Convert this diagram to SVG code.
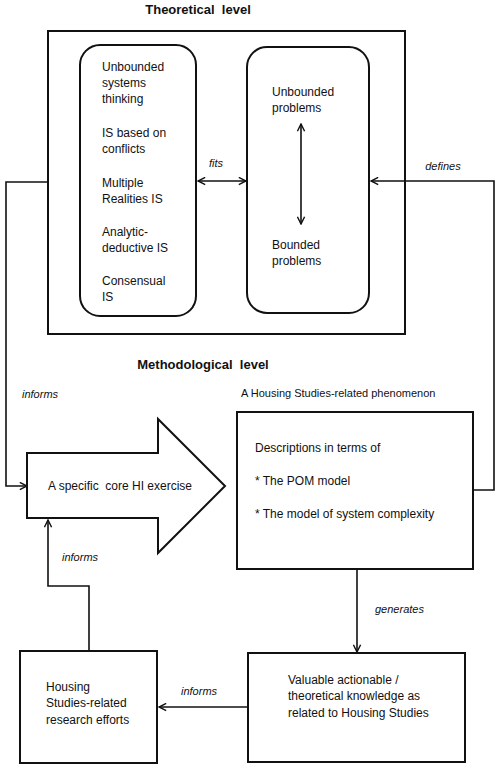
<svg xmlns="http://www.w3.org/2000/svg" width="496" height="765" viewBox="0 0 496 765">
<defs>
<style>
text{font-family:"Liberation Sans",Arial,sans-serif;font-size:12px;fill:#111;white-space:pre}
.title{font-weight:bold;font-size:13px}
.lab{font-style:italic;font-size:11px}
.box{fill:#fff;stroke:#111;stroke-width:2}
.conn{fill:none;stroke:#111;stroke-width:1.6}
</style>
<marker id="ah" viewBox="0 0 10 10" refX="9" refY="5" markerWidth="9" markerHeight="9" orient="auto-start-reverse" markerUnits="userSpaceOnUse">
<path d="M1,1 L9,5 L1,9" fill="none" stroke="#111" stroke-width="1.6"/>
</marker>
</defs>
<rect width="496" height="765" fill="#fff"/>

<text class="title" x="198" y="14" text-anchor="middle">Theoretical  level</text>
<g id="theoretical">
<rect class="box" x="48" y="31" width="357" height="303"/>
</g>
<g id="inquiring-systems">
<rect class="box" x="80" y="45" width="116" height="271" rx="20"/>
<text x="102" y="71">Unbounded</text>
<text x="102" y="87">systems</text>
<text x="102" y="103">thinking</text>
<text x="102" y="137">IS based on</text>
<text x="102" y="153">conflicts</text>
<text x="102" y="187">Multiple</text>
<text x="102" y="203">Realities IS</text>
<text x="102" y="236">Analytic-</text>
<text x="102" y="252">deductive IS</text>
<text x="102" y="285">Consensual</text>
<text x="102" y="301">IS</text>
</g>
<g id="problems">
<rect class="box" x="247" y="47" width="122" height="266" rx="20"/>
<text x="272" y="96">Unbounded</text>
<text x="272" y="112">problems</text>
<text x="272" y="249">Bounded</text>
<text x="272" y="265">problems</text>
</g>

<text class="title" x="203" y="369" text-anchor="middle">Methodological  level</text>
<text x="241" y="397" style="font-size:11px">A Housing Studies-related phenomenon</text>

<g id="hi-exercise">
<path class="box" d="M27,453 L158,453 L158,419 L225,486 L158,553 L158,518 L27,518 Z"/>
<text x="120" y="490" text-anchor="middle">A specific  core HI exercise</text>
</g>
<g id="descriptions">
<rect class="box" x="237" y="412" width="236" height="157"/>
<text x="255" y="452">Descriptions in terms of</text>
<text x="255" y="485">* The POM model</text>
<text x="255" y="518">* The model of system complexity</text>
</g>
<g id="knowledge">
<rect class="box" x="248" y="653" width="217" height="109"/>
<text x="288" y="684">Valuable actionable /</text>
<text x="288" y="700">theoretical knowledge as</text>
<text x="288" y="717">related to Housing Studies</text>
</g>
<g id="research">
<rect class="box" x="20" y="651" width="137" height="112"/>
<text x="46" y="691">Housing</text>
<text x="46" y="707">Studies-related</text>
<text x="46" y="724">research efforts</text>
</g>

<g id="connectors">
<path class="conn" d="M301,224 L301,124" marker-start="url(#ah)" marker-end="url(#ah)"/>
<path class="conn" d="M198,181 L246,181" marker-start="url(#ah)" marker-end="url(#ah)"/>
<path class="conn" d="M473,490 L494,490 L494,181 L371,181" marker-end="url(#ah)"/>
<path class="conn" d="M48,182 L6,182 L6,486 L27,486" marker-end="url(#ah)"/>
<path class="conn" d="M357,569 L357,652" marker-end="url(#ah)"/>
<path class="conn" d="M248,707 L159,707" marker-end="url(#ah)"/>
<path class="conn" d="M89,651 L89,586 L48,586 L48,520" marker-end="url(#ah)"/>
<text class="lab" x="216" y="167" text-anchor="middle">fits</text>
<text class="lab" x="443" y="170" text-anchor="middle">defines</text>
<text class="lab" x="22" y="398">informs</text>
<text class="lab" x="62" y="561">informs</text>
<text class="lab" x="375" y="613">generates</text>
<text class="lab" x="181" y="695">informs</text>
</g>
</svg>
